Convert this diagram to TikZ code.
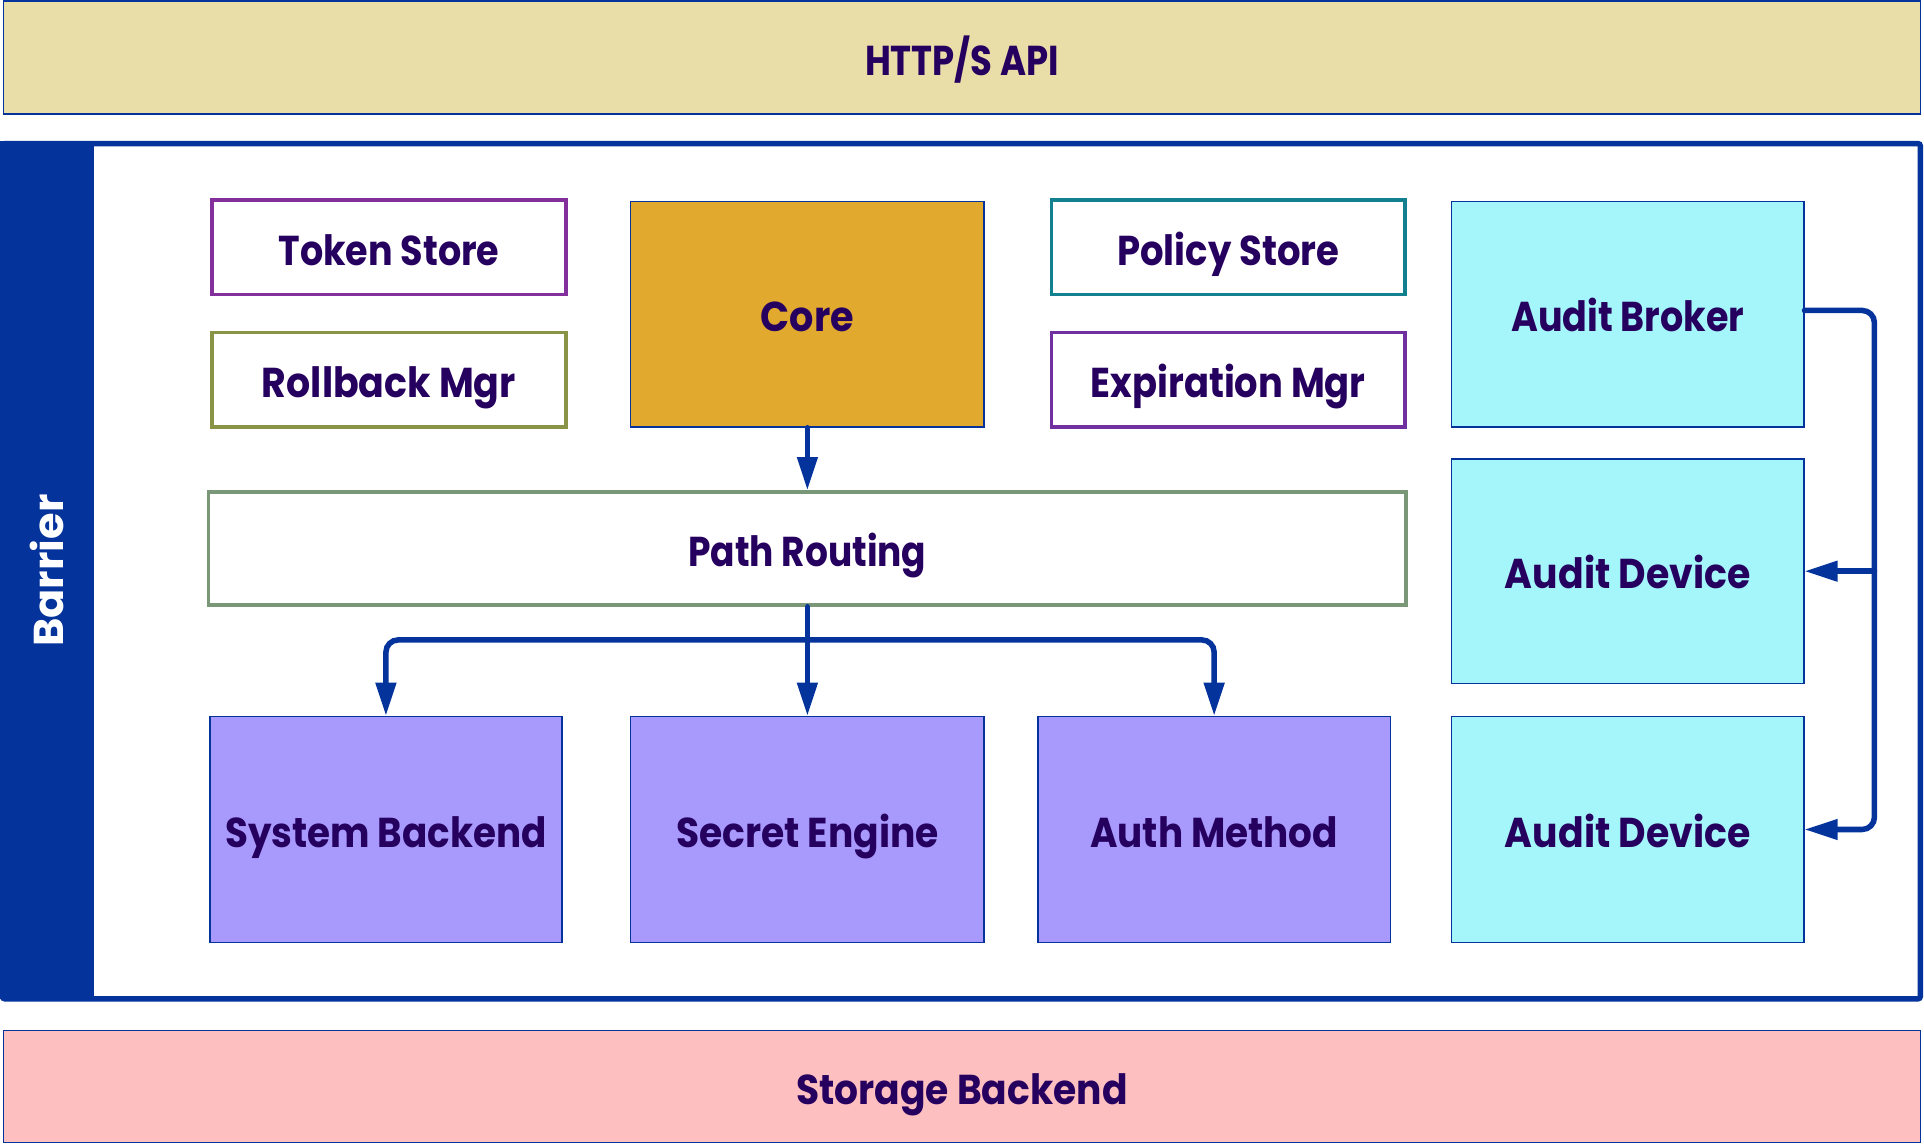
\documentclass[tikz,border=0pt]{standalone}
\usepackage{fontspec}
\setmainfont{Poppins}
\usepackage{graphicx}
\usetikzlibrary{arrows.meta}
\definecolor{dblue}{HTML}{05339C}
\definecolor{txt}{HTML}{26005F}
\definecolor{khaki}{HTML}{E9DEA8}
\definecolor{coref}{HTML}{E2A92F}
\definecolor{cyanf}{HTML}{A5F6FB}
\definecolor{violf}{HTML}{A899FC}
\definecolor{pinkf}{HTML}{FEBFC1}
\definecolor{tokc}{HTML}{84309C}
\definecolor{rolc}{HTML}{8A9446}
\definecolor{polc}{HTML}{13808F}
\definecolor{expc}{HTML}{7030A0}
\definecolor{prc}{HTML}{7A9778}
\newcommand{\tw}[2]{\resizebox{#1pt}{\height}{#2}}
\tikzset{
  lbl/.style={font=\fontsize{34}{40}\selectfont\bfseries, text=txt, inner sep=0pt, text height=29pt, text depth=0pt},
  thinbox/.style={draw=dblue, line width=1.2pt, lbl},
  outlbox/.style={fill=white, line width=3pt, lbl},
  arr/.style={draw=dblue, line width=4.5pt, line cap=round, -{Triangle[length=27pt,width=16pt]}, rounded corners=10pt},
}
\begin{document}
\begin{tikzpicture}[x=1pt,y=-1pt]
\useasboundingbox (0,0) rectangle (1568,932);
% top and bottom bars
\node[thinbox, fill=khaki, minimum width=1562, minimum height=92] (http) at (784,47) {\tw{158}{HTTP/S API}};
\node[thinbox, fill=pinkf, minimum width=1562, minimum height=91] (stor) at (784,885.5) {\tw{270}{Storage Backend}};
% barrier frame
\node[draw=dblue, fill=white, line width=4.5pt, rounded corners=2pt, minimum width=1563, minimum height=697] (bar) at (783.5,465.5) {};
\fill[dblue] (bar.north west) rectangle (77,814);
\node[lbl, text=white, rotate=90, text height=24pt] (bartext) at (40,465) {\tw{124}{Barrier}};
% left column
\node[outlbox, draw=tokc, minimum width=288, minimum height=77] (tok) at (317,201.5) {\tw{180}{Token Store}};
\node[outlbox, draw=rolc, minimum width=288, minimum height=77] (rol) at (317,309.5) {\tw{207}{Rollback Mgr}};
\node[thinbox, fill=coref, minimum width=288, minimum height=184] (core) at (658,256) {\tw{76}{Core}};
\node[outlbox, draw=polc, minimum width=288, minimum height=77] (pol) at (1001,201.5) {\tw{181}{Policy Store}};
\node[outlbox, draw=expc, minimum width=288, minimum height=77] (exp) at (1001,309.5) {\tw{224}{Expiration Mgr}};
% audit column
\node[thinbox, fill=cyanf, minimum width=287, minimum height=184] (ab) at (1326.5,256) {\tw{190}{Audit Broker}};
\node[thinbox, fill=cyanf, minimum width=287, minimum height=183] (ad1) at (1326.5,465.5) {\tw{200}{Audit Device}};
\node[thinbox, fill=cyanf, minimum width=287, minimum height=184] (ad2) at (1326.5,676) {\tw{200}{Audit Device}};
% path routing
\node[outlbox, draw=prc, minimum width=976, minimum height=92] (pr) at (658,447) {\tw{194}{Path Routing}};
% backends
\node[thinbox, fill=violf, minimum width=287, minimum height=184] (sb) at (314.5,676) {\tw{262}{System Backend}};
\node[thinbox, fill=violf, minimum width=288, minimum height=184] (se) at (658,676) {\tw{214}{Secret Engine}};
\node[thinbox, fill=violf, minimum width=287, minimum height=184] (am) at (989.5,676) {\tw{202}{Auth Method}};
% connectors
\coordinate (j) at ([yshift=-27pt]pr.south);
\coordinate (k) at ([xshift=57pt]ab.east |- ad1.east);
\draw[arr] (core.south) -- (pr.north);
\draw[arr] (pr.south) -- (se.north);
\draw[arr] (j) -| (sb.north);
\draw[arr] (j) -| (am.north);
\draw[arr] ([yshift=3pt]ab.east) -- ++(57,0) |- (ad2.east);
\draw[arr] (k) -- (ad1.east);
\end{tikzpicture}
\end{document}
